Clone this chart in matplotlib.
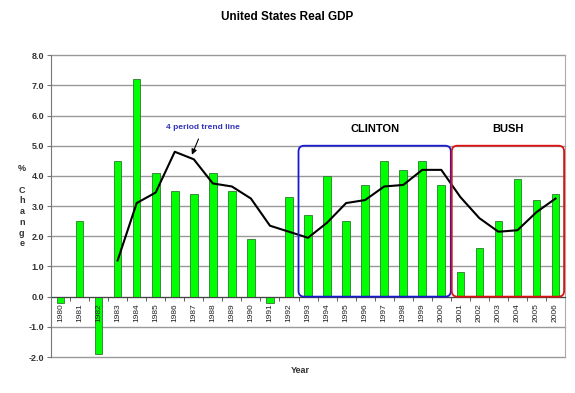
import numpy as np
import matplotlib.pyplot as plt
from matplotlib.patches import FancyBboxPatch

years = [str(y) for y in range(1980, 2007)]
gdp = [-0.2, 2.5, -1.9, 4.5, 7.2, 4.1, 3.5, 3.4, 4.1, 3.5, 1.9, -0.2, 3.3,
       2.7, 4.0, 2.5, 3.7, 4.5, 4.2, 4.5, 3.7, 0.8, 1.6, 2.5, 3.9, 3.2, 3.4]
trend_years = years[3:]
trend = [1.2, 3.1, 3.45, 4.8, 4.55, 3.75, 3.65, 3.25, 2.35, 2.15,
         1.95, 2.45, 3.1, 3.2, 3.65, 3.7, 4.2, 4.2, 3.3, 2.6, 2.15, 2.2, 2.8, 3.25]
yticks = [-2.0, -1.0, 0.0, 1.0, 2.0, 3.0, 4.0, 5.0, 6.0, 7.0, 8.0]

plt.rcParams['font.family'] = 'Liberation Sans'

fig = plt.figure(figsize=(5.75, 3.93), dpi=100)
ax = fig.add_axes([0.0887, 0.0916, 0.894, 0.768])

# gridlines by hand so the tick labels can sit above the bars
for v in yticks:
    ax.axhline(v, color='#999999', lw=1.0, zorder=0.5, clip_on=False)

x = np.arange(len(years))
ax.bar(x, gdp, width=0.4, color='#00ff00', edgecolor='#2d7a2d', linewidth=0.6, zorder=2)
tx = np.array([years.index(y) for y in trend_years])
ax.plot(tx, trend, color='black', lw=1.5, zorder=4)
ax.set_axisbelow(False)

ax.set_xlim(-0.5, len(years) - 0.5)
ax.set_ylim(-2, 8)
ax.set_yticks(yticks)
ax.set_yticklabels(['%.1f' % v for v in yticks], fontsize=6.5, fontweight='bold', color='#333333')
ax.tick_params(axis='y', length=3, color='#777777', pad=2)

ax.spines['bottom'].set_position(('data', 0))
ax.spines['bottom'].set_color('#444444')
ax.spines['top'].set_visible(False)
ax.spines['right'].set_color('#aaaaaa')
ax.spines['left'].set_color('#777777')
ax.set_xticks(x)
ax.set_xticklabels(years, rotation=90, fontsize=6, color='#222222')
ax.set_xticks(x[:-1] + 0.5, minor=True)
ax.tick_params(axis='x', which='major', length=0, pad=5)
ax.tick_params(axis='x', which='minor', length=3, color='#444444')

# president boxes
box_kw = dict(boxstyle='round,pad=0,rounding_size=0.3', mutation_aspect=0.63,
              fill=False, lw=1.3, zorder=5)
ax.add_patch(FancyBboxPatch((12.5, 0), 8.0, 5.0, edgecolor='#1a1acc', **box_kw))
ax.add_patch(FancyBboxPatch((20.55, 0), 5.9, 5.0, edgecolor='#dd1111', **box_kw))
ax.text(16.5, 5.55, 'CLINTON', ha='center', va='center', fontsize=8, fontweight='bold')
ax.text(23.5, 5.55, 'BUSH', ha='center', va='center', fontsize=8, fontweight='bold')

ax.annotate('4 period trend line', xy=(6.9, 4.7), xytext=(7.5, 5.6),
            ha='center', va='center', fontsize=6, fontweight='bold', color='#3333bb',
            arrowprops=dict(arrowstyle='-|>', color='black', lw=0.8, mutation_scale=8,
                            shrinkA=4, shrinkB=0))

fig.text(0.5, 0.957, 'United States Real GDP', ha='center', va='center',
         fontsize=8.5, fontweight='bold')
fig.text(0.522, 0.056, 'Year', ha='center', va='center', fontsize=6.5, fontweight='bold', color='#333333')
fig.text(0.038, 0.475, '%\n\nC\nh\na\nn\ng\ne', ha='center', va='center',
         fontsize=6.5, fontweight='bold', color='#333333', linespacing=1.25)

plt.savefig('out.png', dpi=100)
